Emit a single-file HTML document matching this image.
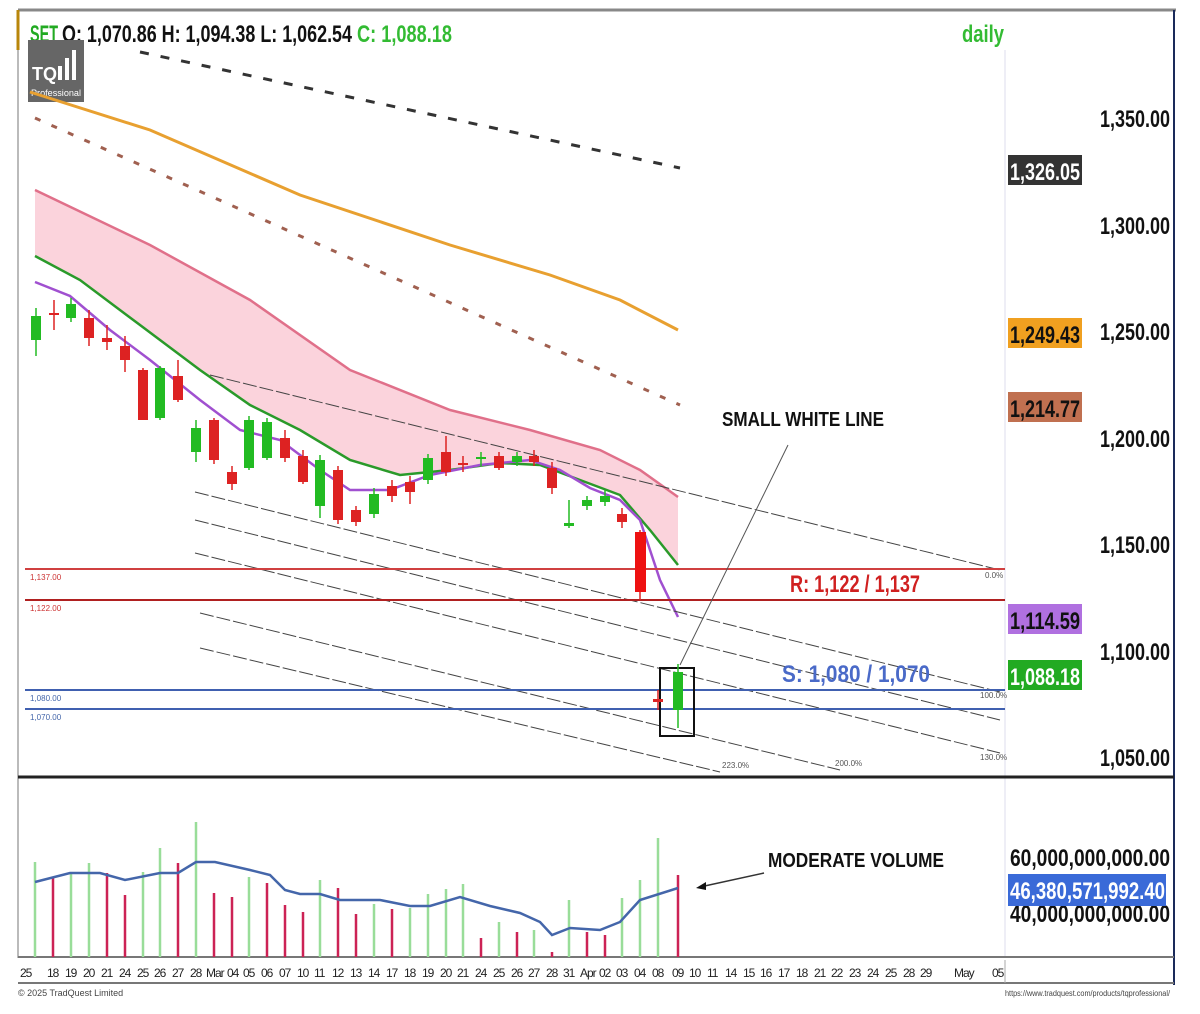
<!DOCTYPE html>
<html><head><meta charset="utf-8"><style>
body{margin:0;background:#fff;}
svg{display:block;font-family:"Liberation Sans",sans-serif;}
</style></head><body>
<svg width="1200" height="1014" viewBox="0 0 1200 1014" xmlns="http://www.w3.org/2000/svg">
<rect width="1200" height="1014" fill="#fff"/>
<!-- frame -->
<line x1="18" y1="10" x2="1176" y2="10" stroke="#888" stroke-width="3"/>
<line x1="18" y1="10" x2="18" y2="50" stroke="#b8860b" stroke-width="3"/>
<line x1="18" y1="50" x2="18" y2="958" stroke="#777" stroke-width="1"/>
<line x1="1174" y1="10" x2="1174" y2="985" stroke="#1a2a5a" stroke-width="2"/>
<line x1="1005" y1="50" x2="1005" y2="958" stroke="#dde" stroke-width="1"/>
<line x1="18" y1="777" x2="1174" y2="777" stroke="#222" stroke-width="3"/>
<line x1="18" y1="957" x2="1174" y2="957" stroke="#777" stroke-width="2"/>
<line x1="18" y1="983" x2="1174" y2="983" stroke="#777" stroke-width="2"/>
<line x1="1005" y1="960" x2="1005" y2="983" stroke="#aaa"/>

<!-- header -->
<text x="30" y="42" font-size="24" font-weight="bold" fill="#22aa22" textLength="28" lengthAdjust="spacingAndGlyphs">SET</text>
<text x="62" y="42" font-size="24" font-weight="bold" fill="#111" textLength="290" lengthAdjust="spacingAndGlyphs">O: 1,070.86 H: 1,094.38 L: 1,062.54</text>
<text x="357" y="42" font-size="24" font-weight="bold" fill="#33bb33" textLength="95" lengthAdjust="spacingAndGlyphs">C: 1,088.18</text>
<text x="962" y="42" font-size="24" font-weight="bold" fill="#33bb33" textLength="42" lengthAdjust="spacingAndGlyphs">daily</text>
<rect x="28" y="40" width="56" height="62" fill="#666"/>
<text x="32" y="80" font-size="18" font-weight="bold" fill="#fff">TQ</text>
<rect x="58" y="66" width="4" height="14" fill="#fff"/><rect x="65" y="58" width="4" height="22" fill="#fff"/><rect x="72" y="50" width="4" height="30" fill="#fff"/>
<text x="31" y="96" font-size="9" fill="#fff" textLength="50" lengthAdjust="spacingAndGlyphs">Professional</text>

<!-- pink band -->
<path d="M35,190 L150,245 L250,300 L350,370 L450,410 L530,430 L600,450 L640,470 L678,497 L678,565 L650,530 L620,495 L580,480 L540,465 L500,463 L450,470 L400,475 L350,460 L300,430 L250,405 L200,370 L140,325 L80,280 L35,256 Z" fill="#fbd3dc"/>
<polyline points="35,190 150,245 250,300 350,370 450,410 530,430 600,450 640,470 678,497" fill="none" stroke="#e0708a" stroke-width="2.5"/>
<polyline points="35,256 80,280 140,325 200,370 250,405 300,430 350,460 400,475 450,470 500,463 540,465 580,480 620,495 650,530 678,565" fill="none" stroke="#2a9a2a" stroke-width="2.5"/>
<polyline points="35,282 70,296 110,330 150,360 200,400 240,430 280,440 320,470 350,490 390,490 430,475 480,465 530,460 560,470 590,488 620,500 640,520 660,580 678,617" fill="none" stroke="#a050d0" stroke-width="2.5"/>
<!-- orange MA -->
<polyline points="30,92 150,130 300,195 450,245 550,275 620,300 678,330" fill="none" stroke="#e8a030" stroke-width="3"/>
<line x1="140" y1="52" x2="680" y2="168" stroke="#333" stroke-width="3" stroke-dasharray="9,12"/>
<line x1="35" y1="118" x2="680" y2="405" stroke="#a06050" stroke-width="3" stroke-dasharray="6,12"/>

<!-- diagonal lines -->
<g stroke="#444" stroke-width="1" stroke-dasharray="14,3">
<line x1="210" y1="375" x2="1000" y2="570"/>
<line x1="195" y1="492" x2="1000" y2="692"/>
<line x1="195" y1="520" x2="1000" y2="720"/>
<line x1="195" y1="553" x2="1000" y2="753"/>
<line x1="200" y1="613" x2="840" y2="770"/>
<line x1="200" y1="648" x2="720" y2="772"/>
</g>
<!-- horizontals -->
<line x1="25" y1="569" x2="1005" y2="569" stroke="#d04040" stroke-width="2"/>
<line x1="25" y1="600" x2="1005" y2="600" stroke="#b02020" stroke-width="2"/>
<line x1="25" y1="690" x2="1005" y2="690" stroke="#4060b0" stroke-width="2"/>
<line x1="25" y1="709" x2="1005" y2="709" stroke="#4060b0" stroke-width="2"/>
<g font-size="8" fill="#c33"><text x="30" y="580">1,137.00</text><text x="30" y="611">1,122.00</text></g>
<g font-size="8" fill="#46a"><text x="30" y="701">1,080.00</text><text x="30" y="720">1,070.00</text></g>
<g font-size="8" fill="#555"><text x="985" y="578">0.0%</text><text x="980" y="698">100.0%</text><text x="980" y="760">130.0%</text><text x="835" y="766">200.0%</text><text x="722" y="768">223.0%</text></g>
<text x="790" y="592" font-size="24" font-weight="bold" fill="#d02020" textLength="130" lengthAdjust="spacingAndGlyphs">R: 1,122 / 1,137</text>
<text x="782" y="682" font-size="24" font-weight="bold" fill="#4a6ac8" textLength="148" lengthAdjust="spacingAndGlyphs">S: 1,080 / 1,070</text>
<text x="722" y="426" font-size="20" font-weight="bold" fill="#111" textLength="162" lengthAdjust="spacingAndGlyphs">SMALL WHITE LINE</text>
<line x1="788" y1="445" x2="680" y2="665" stroke="#555" stroke-width="1"/>
<rect x="660" y="668" width="34" height="68" fill="none" stroke="#111" stroke-width="2"/>

<!-- candles -->
<g stroke-width="1.5">
<line x1="36" y1="308" x2="36" y2="356" stroke="#2b2"/><rect x="31" y="316" width="10" height="24" fill="#2b2"/>
<line x1="54" y1="300" x2="54" y2="330" stroke="#d22"/><rect x="49" y="313" width="10" height="2" fill="#d22"/>
<line x1="71" y1="298" x2="71" y2="322" stroke="#2b2"/><rect x="66" y="304" width="10" height="14" fill="#2b2"/>
<line x1="89" y1="310" x2="89" y2="346" stroke="#d22"/><rect x="84" y="318" width="10" height="20" fill="#d22"/>
<line x1="107" y1="325" x2="107" y2="350" stroke="#d22"/><rect x="102" y="338" width="10" height="4" fill="#d22"/>
<line x1="125" y1="336" x2="125" y2="372" stroke="#d22"/><rect x="120" y="346" width="10" height="14" fill="#d22"/>
<line x1="143" y1="368" x2="143" y2="420" stroke="#d22"/><rect x="138" y="370" width="10" height="50" fill="#d22"/>
<line x1="160" y1="366" x2="160" y2="420" stroke="#2b2"/><rect x="155" y="368" width="10" height="50" fill="#2b2"/>
<line x1="178" y1="360" x2="178" y2="402" stroke="#d22"/><rect x="173" y="376" width="10" height="24" fill="#d22"/>
<line x1="196" y1="420" x2="196" y2="462" stroke="#2b2"/><rect x="191" y="428" width="10" height="24" fill="#2b2"/>
<line x1="214" y1="418" x2="214" y2="464" stroke="#d22"/><rect x="209" y="420" width="10" height="40" fill="#d22"/>
<line x1="232" y1="466" x2="232" y2="490" stroke="#d22"/><rect x="227" y="472" width="10" height="12" fill="#d22"/>
<line x1="249" y1="416" x2="249" y2="470" stroke="#2b2"/><rect x="244" y="420" width="10" height="48" fill="#2b2"/>
<line x1="267" y1="418" x2="267" y2="460" stroke="#2b2"/><rect x="262" y="422" width="10" height="36" fill="#2b2"/>
<line x1="285" y1="430" x2="285" y2="462" stroke="#d22"/><rect x="280" y="438" width="10" height="20" fill="#d22"/>
<line x1="303" y1="450" x2="303" y2="484" stroke="#d22"/><rect x="298" y="456" width="10" height="26" fill="#d22"/>
<line x1="320" y1="455" x2="320" y2="518" stroke="#2b2"/><rect x="315" y="460" width="10" height="46" fill="#2b2"/>
<line x1="338" y1="466" x2="338" y2="524" stroke="#d22"/><rect x="333" y="470" width="10" height="50" fill="#d22"/>
<line x1="356" y1="506" x2="356" y2="526" stroke="#d22"/><rect x="351" y="510" width="10" height="12" fill="#d22"/>
<line x1="374" y1="488" x2="374" y2="518" stroke="#2b2"/><rect x="369" y="494" width="10" height="20" fill="#2b2"/>
<line x1="392" y1="480" x2="392" y2="502" stroke="#d22"/><rect x="387" y="486" width="10" height="10" fill="#d22"/>
<line x1="410" y1="476" x2="410" y2="504" stroke="#d22"/><rect x="405" y="482" width="10" height="10" fill="#d22"/>
<line x1="428" y1="454" x2="428" y2="484" stroke="#2b2"/><rect x="423" y="458" width="10" height="22" fill="#2b2"/>
<line x1="446" y1="436" x2="446" y2="476" stroke="#d22"/><rect x="441" y="452" width="10" height="20" fill="#d22"/>
<line x1="463" y1="456" x2="463" y2="472" stroke="#d22"/><rect x="458" y="463" width="10" height="2" fill="#d22"/>
<line x1="481" y1="452" x2="481" y2="466" stroke="#2b2"/><rect x="476" y="457" width="10" height="2" fill="#2b2"/>
<line x1="499" y1="452" x2="499" y2="470" stroke="#d22"/><rect x="494" y="456" width="10" height="12" fill="#d22"/>
<line x1="517" y1="452" x2="517" y2="466" stroke="#2b2"/><rect x="512" y="456" width="10" height="6" fill="#2b2"/>
<line x1="534" y1="450" x2="534" y2="466" stroke="#d22"/><rect x="529" y="456" width="10" height="6" fill="#d22"/>
<line x1="552" y1="462" x2="552" y2="494" stroke="#d22"/><rect x="547" y="468" width="10" height="20" fill="#d22"/>
<line x1="569" y1="500" x2="569" y2="528" stroke="#2b2"/><rect x="564" y="523" width="10" height="3" fill="#2b2"/>
<line x1="587" y1="496" x2="587" y2="510" stroke="#2b2"/><rect x="582" y="500" width="10" height="6" fill="#2b2"/>
<line x1="605" y1="490" x2="605" y2="506" stroke="#2b2"/><rect x="600" y="496" width="10" height="6" fill="#2b2"/>
<line x1="622" y1="508" x2="622" y2="528" stroke="#d22"/><rect x="617" y="514" width="10" height="8" fill="#d22"/>
<line x1="640" y1="530" x2="640" y2="600" stroke="#d22"/><rect x="635" y="532" width="11" height="60" fill="#e11"/>
<line x1="658" y1="690" x2="658" y2="710" stroke="#d22"/><rect x="653" y="699" width="10" height="3" fill="#d22"/>
<line x1="678" y1="664" x2="678" y2="728" stroke="#2b2"/><rect x="673" y="672" width="10" height="38" fill="#2b2"/>
</g>

<!-- right axis -->
<g font-size="24" font-weight="bold" fill="#111">
<text x="1100" y="127" textLength="70" lengthAdjust="spacingAndGlyphs">1,350.00</text>
<text x="1100" y="234" textLength="70" lengthAdjust="spacingAndGlyphs">1,300.00</text>
<text x="1100" y="340" textLength="70" lengthAdjust="spacingAndGlyphs">1,250.00</text>
<text x="1100" y="447" textLength="70" lengthAdjust="spacingAndGlyphs">1,200.00</text>
<text x="1100" y="553" textLength="70" lengthAdjust="spacingAndGlyphs">1,150.00</text>
<text x="1100" y="660" textLength="70" lengthAdjust="spacingAndGlyphs">1,100.00</text>
<text x="1100" y="766" textLength="70" lengthAdjust="spacingAndGlyphs">1,050.00</text>
</g>
<rect x="1008" y="155" width="74" height="30" fill="#333"/>
<rect x="1008" y="318" width="74" height="30" fill="#f0a020"/>
<rect x="1008" y="392" width="74" height="30" fill="#c07050"/>
<rect x="1008" y="604" width="74" height="30" fill="#b070e0"/>
<rect x="1008" y="660" width="74" height="30" fill="#22aa22"/>
<g font-size="24" font-weight="bold">
<text x="1010" y="180" fill="#fff" textLength="70" lengthAdjust="spacingAndGlyphs">1,326.05</text>
<text x="1010" y="343" fill="#111" textLength="70" lengthAdjust="spacingAndGlyphs">1,249.43</text>
<text x="1010" y="417" fill="#111" textLength="70" lengthAdjust="spacingAndGlyphs">1,214.77</text>
<text x="1010" y="629" fill="#111" textLength="70" lengthAdjust="spacingAndGlyphs">1,114.59</text>
<text x="1010" y="685" fill="#fff" textLength="70" lengthAdjust="spacingAndGlyphs">1,088.18</text>
</g>

<!-- volume -->
<g stroke-width="2.5">
<line x1="35" y1="957" x2="35" y2="862" stroke="#9d9"/>
<line x1="53" y1="957" x2="53" y2="877" stroke="#c25"/>
<line x1="71" y1="957" x2="71" y2="873" stroke="#9d9"/>
<line x1="89" y1="957" x2="89" y2="863" stroke="#9d9"/>
<line x1="107" y1="957" x2="107" y2="873" stroke="#c25"/>
<line x1="125" y1="957" x2="125" y2="895" stroke="#c25"/>
<line x1="143" y1="957" x2="143" y2="872" stroke="#9d9"/>
<line x1="160" y1="957" x2="160" y2="848" stroke="#9d9"/>
<line x1="178" y1="957" x2="178" y2="863" stroke="#c25"/>
<line x1="196" y1="957" x2="196" y2="822" stroke="#9d9"/>
<line x1="214" y1="957" x2="214" y2="893" stroke="#c25"/>
<line x1="232" y1="957" x2="232" y2="897" stroke="#c25"/>
<line x1="249" y1="957" x2="249" y2="877" stroke="#9d9"/>
<line x1="267" y1="957" x2="267" y2="883" stroke="#c25"/>
<line x1="285" y1="957" x2="285" y2="905" stroke="#c25"/>
<line x1="303" y1="957" x2="303" y2="912" stroke="#c25"/>
<line x1="320" y1="957" x2="320" y2="880" stroke="#9d9"/>
<line x1="338" y1="957" x2="338" y2="888" stroke="#c25"/>
<line x1="356" y1="957" x2="356" y2="914" stroke="#c25"/>
<line x1="374" y1="957" x2="374" y2="904" stroke="#9d9"/>
<line x1="392" y1="957" x2="392" y2="909" stroke="#c25"/>
<line x1="410" y1="957" x2="410" y2="908" stroke="#9d9"/>
<line x1="428" y1="957" x2="428" y2="894" stroke="#9d9"/>
<line x1="446" y1="957" x2="446" y2="889" stroke="#9d9"/>
<line x1="463" y1="957" x2="463" y2="884" stroke="#9d9"/>
<line x1="481" y1="957" x2="481" y2="938" stroke="#c25"/>
<line x1="499" y1="957" x2="499" y2="922" stroke="#9d9"/>
<line x1="517" y1="957" x2="517" y2="932" stroke="#c25"/>
<line x1="534" y1="957" x2="534" y2="930" stroke="#9d9"/>
<line x1="552" y1="957" x2="552" y2="952" stroke="#c25"/>
<line x1="569" y1="957" x2="569" y2="900" stroke="#9d9"/>
<line x1="587" y1="957" x2="587" y2="932" stroke="#c25"/>
<line x1="605" y1="957" x2="605" y2="935" stroke="#c25"/>
<line x1="622" y1="957" x2="622" y2="898" stroke="#9d9"/>
<line x1="640" y1="957" x2="640" y2="880" stroke="#9d9"/>
<line x1="658" y1="957" x2="658" y2="838" stroke="#9d9"/>
<line x1="678" y1="957" x2="678" y2="875" stroke="#c25"/>
</g>
<polyline points="35,882 70,873 100,873 125,880 160,873 178,873 196,862 215,862 250,870 270,875 285,890 300,894 320,894 340,900 380,900 410,906 430,906 460,897 490,906 520,913 540,922 552,935 570,928 600,930 620,922 640,900 678,888" fill="none" stroke="#4466aa" stroke-width="2.5"/>
<text x="768" y="867" font-size="20" font-weight="bold" fill="#111" textLength="176" lengthAdjust="spacingAndGlyphs">MODERATE VOLUME</text>
<line x1="764" y1="873" x2="700" y2="887" stroke="#333" stroke-width="1.5"/>
<path d="M696,888 L706,882 L706,890 Z" fill="#111"/>
<text x="1010" y="866" font-size="24" font-weight="bold" fill="#111" textLength="160" lengthAdjust="spacingAndGlyphs">60,000,000,000.00</text>
<text x="1010" y="922" font-size="24" font-weight="bold" fill="#111" textLength="160" lengthAdjust="spacingAndGlyphs">40,000,000,000.00</text>
<rect x="1008" y="874" width="158" height="32" fill="#3a6ad8"/>
<text x="1010" y="899" font-size="24" font-weight="bold" fill="#fff" textLength="155" lengthAdjust="spacingAndGlyphs">46,380,571,992.40</text>

<!-- date axis -->
<g font-size="12" fill="#222" letter-spacing="-1">
<text x="20" y="977">25</text><text x="47" y="977">18</text><text x="65" y="977">19</text><text x="83" y="977">20</text><text x="101" y="977">21</text><text x="119" y="977">24</text><text x="137" y="977">25</text><text x="154" y="977">26</text><text x="172" y="977">27</text><text x="190" y="977">28</text><text x="206" y="977">Mar</text><text x="227" y="977">04</text><text x="243" y="977">05</text><text x="261" y="977">06</text><text x="279" y="977">07</text><text x="297" y="977">10</text><text x="314" y="977">11</text><text x="332" y="977">12</text><text x="350" y="977">13</text><text x="368" y="977">14</text><text x="386" y="977">17</text><text x="404" y="977">18</text><text x="422" y="977">19</text><text x="440" y="977">20</text><text x="457" y="977">21</text><text x="475" y="977">24</text><text x="493" y="977">25</text><text x="511" y="977">26</text><text x="528" y="977">27</text><text x="546" y="977">28</text><text x="563" y="977">31</text><text x="580" y="977">Apr</text><text x="599" y="977">02</text><text x="616" y="977">03</text><text x="634" y="977">04</text><text x="652" y="977">08</text><text x="672" y="977">09</text><text x="689" y="977">10</text><text x="707" y="977">11</text><text x="725" y="977">14</text><text x="743" y="977">15</text><text x="760" y="977">16</text><text x="778" y="977">17</text><text x="796" y="977">18</text><text x="814" y="977">21</text><text x="831" y="977">22</text><text x="849" y="977">23</text><text x="867" y="977">24</text><text x="885" y="977">25</text><text x="903" y="977">28</text><text x="920" y="977">29</text><text x="954" y="977">May</text><text x="992" y="977">05</text>
</g>
<text x="18" y="996" font-size="9" fill="#444">© 2025 TradQuest Limited</text>
<text x="1005" y="996" font-size="8" fill="#444" textLength="165" lengthAdjust="spacingAndGlyphs">https://www.tradquest.com/products/tqprofessional/</text>
</svg>
</body></html>
